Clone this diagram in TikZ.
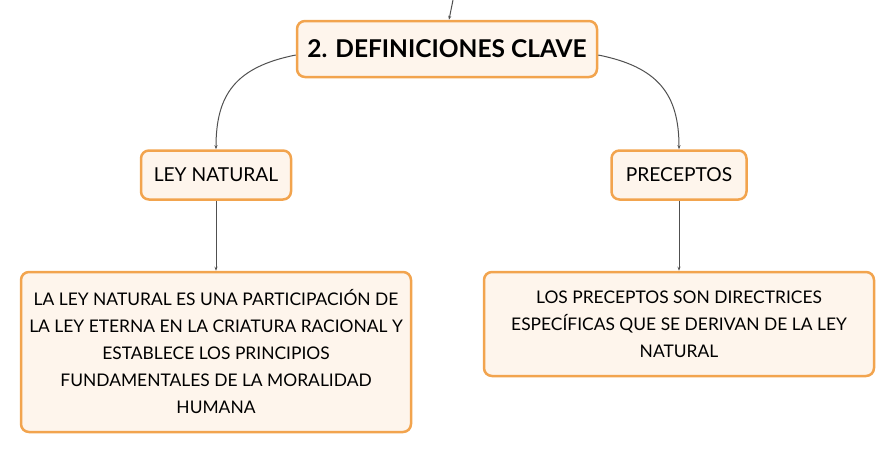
\documentclass[tikz,border=0pt]{standalone}
\usepackage{fontspec}
\setmainfont{Lato}
\usetikzlibrary{arrows.meta}
\definecolor{boxline}{HTML}{F2A44E}
\definecolor{boxfill}{HTML}{FEF5EC}
\definecolor{linkgray}{HTML}{505050}
\begin{document}
\begin{tikzpicture}[x=1pt,y=-1pt,
    box/.style={draw=boxline, fill=boxfill, line width=2.5pt, rounded corners=8pt,
                align=center, inner sep=0pt, font=\fontsize{17.4}{27}\selectfont},
    link/.style={draw=linkgray, line width=1pt, -{Stealth[length=4pt,width=3pt]}}]
    \useasboundingbox (0,0) rectangle (896,455);
    % title
    \node[box, minimum width=300, minimum height=56,
          font=\fontsize{24.5}{28}\selectfont\bfseries] (title) at (447,49) {2. DEFINICIONES CLAVE};
    \coordinate (top) at (453,0);
    \draw[link] (top) -- ([xshift=2pt]title.north);
    % left branch
    \node[box, minimum width=150, minimum height=49,
          font=\fontsize{19.2}{23}\selectfont] (ley) at (216,175) {LEY NATURAL};
    \node[box, minimum width=390, minimum height=160] (leytext) at (216,352)
        {LA LEY NATURAL ES UNA PARTICIPACIÓN DE\\
         LA LEY ETERNA EN LA CRIATURA RACIONAL Y\\
         ESTABLECE LOS PRINCIPIOS\\
         FUNDAMENTALES DE LA MORALIDAD\\
         HUMANA};
    % right branch
    \node[box, minimum width=135, minimum height=49,
          font=\fontsize{19.2}{23}\selectfont] (prec) at (679,175) {PRECEPTOS};
    \node[box, minimum width=390, minimum height=104] (prectext) at (679,324)
        {LOS PRECEPTOS SON DIRECTRICES\\
         ESPECÍFICAS QUE SE DERIVAN DE LA LEY\\
         NATURAL};
    % links
    \draw[link] ([yshift=-6pt]title.west) .. controls +(-60,12) and +(0,-55) .. (ley.north);
    \draw[link] ([yshift=-6pt]title.east) .. controls +(60,12) and +(0,-55) .. (prec.north);
    \draw[link] (ley) -- (leytext);
    \draw[link] (prec) -- (prectext);
\end{tikzpicture}
\end{document}
